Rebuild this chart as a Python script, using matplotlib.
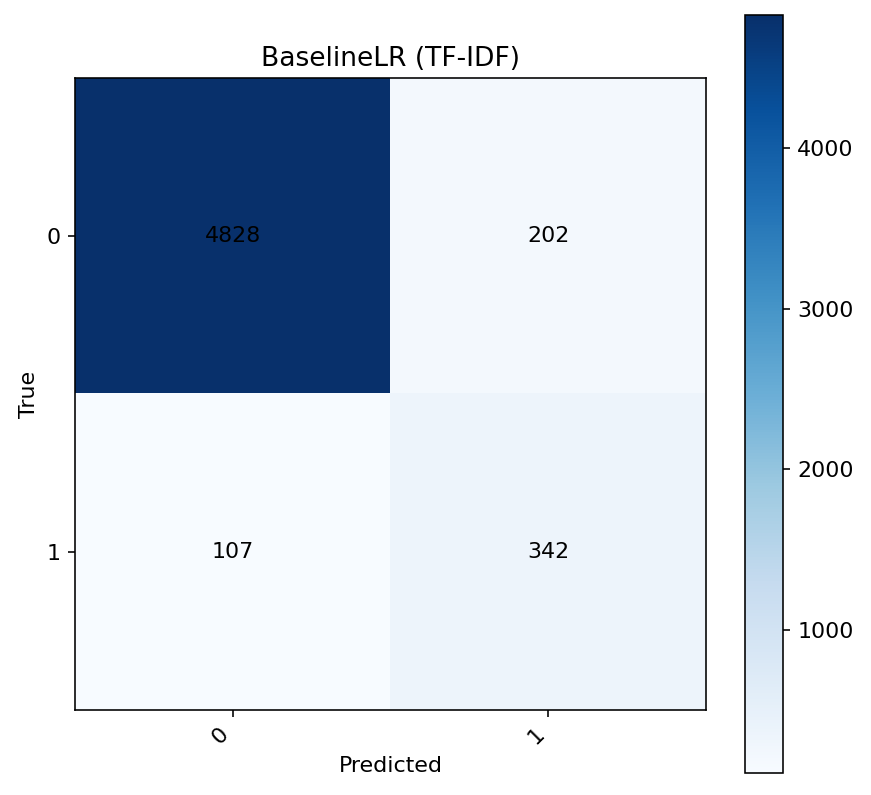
import numpy as np
import matplotlib
matplotlib.use("Agg")
import matplotlib.pyplot as plt

# confusion matrix values
labels = ["0", "1"]
cm = np.array([[4828, 202],
               [107, 342]])
title = "BaselineLR (TF-IDF)"

plt.rcParams["font.size"] = 11

W, H = 871, 795
fig = plt.figure(figsize=(W / 145, H / 145), dpi=145)
ax = fig.add_axes([75 / W, 1 - 710 / H, 631 / W, 632 / H])
cax = fig.add_axes([745 / W, 1 - 773 / H, 38 / W, 758 / H])
im = ax.imshow(cm, interpolation="nearest", cmap="Blues", aspect="auto")
fig.colorbar(im, cax=cax)

ax.set_title(title)
ax.set_xticks(range(len(labels)))
ax.set_yticks(range(len(labels)))
ax.set_xticklabels(labels, rotation=45, ha="right")
ax.set_yticklabels(labels)
ax.set_xlabel("Predicted")
ax.set_ylabel("True")

for i in range(cm.shape[0]):
    for j in range(cm.shape[1]):
        ax.text(j, i, str(cm[i, j]), ha="center", va="center", color="black")

fig.savefig("out.png", dpi=145)
